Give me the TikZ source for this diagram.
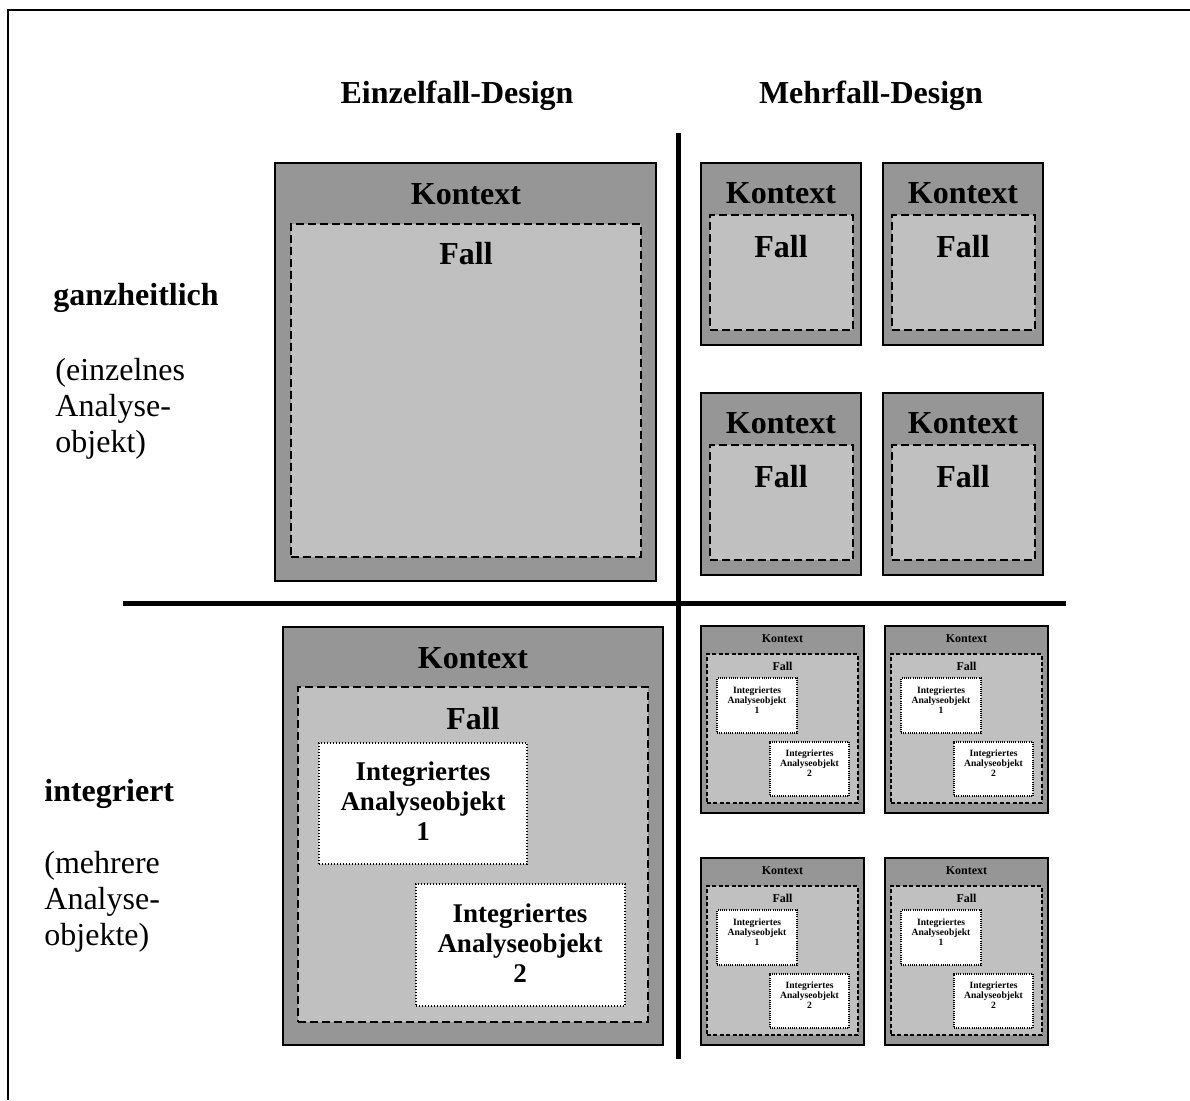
\documentclass[tikz,border=0pt]{standalone}
\usepackage{fontspec}
\setmainfont{Liberation Serif}
\usetikzlibrary{fit}
\definecolor{ctxgray}{RGB}{150,150,150}
\definecolor{casegray}{RGB}{192,192,192}
\tikzset{
  ctxbox/.style={draw=black, line width=1pt, fill=ctxgray, inner sep=0pt},
  casebox/.style={draw=black, line width=1pt, fill=casegray, dash pattern=on 4pt off 2pt, inner sep=0pt},
  objbox/.style={draw=black, line width=0.9pt, fill=white, dash pattern=on 0.6pt off 0.9pt, inner sep=0pt},
  scasebox/.style={draw=black, line width=0.8pt, fill=casegray, dash pattern=on 2pt off 1.2pt, inner sep=0pt},
  sobjbox/.style={draw=black, line width=0.6pt, fill=white, dash pattern=on 0.5pt off 0.6pt, inner sep=0pt},
  big/.style={font=\bfseries\fontsize{16}{18}\selectfont, inner sep=0pt},
  side/.style={font=\fontsize{16}{18}\selectfont, inner sep=0pt, align=left, anchor=north west},
  mid/.style={font=\bfseries\fontsize{13.5}{15}\selectfont, inner sep=0pt, align=center},
  tinyhead/.style={font=\bfseries\fontsize{6}{7}\selectfont, inner sep=0pt},
  tinyobj/.style={font=\bfseries\fontsize{4.8}{5}\selectfont, inner sep=0pt, align=center},
  divider/.style={line width=2.5pt}
}
\newcommand\smallcase[3]{%
  \begin{scope}[shift={(#1,#2)}]
    \node[ctxbox, fit={(0,0) (163,187)}] (#3ctx) {};
    \node[tinyhead] (#3ctxt) at (81.5,13) {Kontext};
    \node[scasebox, fit={(6,28) (157,177)}] (#3case) {};
    \node[tinyhead] (#3caset) at (81.5,40) {Fall};
    \node[sobjbox, fit={(16,52) (96,107)}] (#3oa) {};
    \node[tinyobj] (#3oat) at (56,74) {Integriertes\\Analyseobjekt\\1};
    \node[sobjbox, fit={(69,116) (148,170)}] (#3ob) {};
    \node[tinyobj] (#3obt) at (108.5,137) {Integriertes\\Analyseobjekt\\2};
  \end{scope}}
\newcommand\holcase[3]{%
  \begin{scope}[shift={(#1,#2)}]
    \node[ctxbox, fit={(0,0) (160,182)}] (#3ctx) {};
    \node[big] (#3ctxt) at (80,30) {Kontext};
    \node[casebox, fit={(9,52) (152,167)}] (#3case) {};
    \node[big] (#3caset) at (80,84) {Fall};
  \end{scope}}
\begin{document}
\begin{tikzpicture}[x=0.5pt, y=-0.5pt]
  \useasboundingbox (0,0) rectangle (1190,1100);
  % outer frame (top and left only)
  \coordinate (ftl) at (8,10);
  \coordinate (ftr) at (1190,10);
  \coordinate (fbl) at (8,1100);
  \draw[line width=1pt] (fbl) -- (ftl) -- (ftr);

  % headings
  \node[big] (h1) at (457,96) {Einzelfall-Design};
  \node[big] (h2) at (871,96) {Mehrfall-Design};

  % side labels
  \node[big, anchor=west] (l1) at (53,298) {ganzheitlich};
  \node[side] (l1b) at (55,358) {(einzelnes\\Analyse-\\objekt)};
  \node[big, anchor=west] (l2) at (44,794) {integriert};
  \node[side] (l2b) at (44,851) {(mehrere\\Analyse-\\objekte)};

  % dividers
  \coordinate (vt) at (678,133);
  \coordinate (vb) at (678,1059);
  \coordinate (hl) at (123,603);
  \coordinate (hr) at (1066,603);
  \draw[divider] (vt) -- (vb);
  \draw[divider] (hl) -- (hr);

  % Einzelfall, ganzheitlich
  \node[ctxbox, fit={(275,163) (656,581)}] (e1ctx) {};
  \node[big] (e1ctxt) at (466,194) {Kontext};
  \node[casebox, fit={(291,224) (641,557)}] (e1case) {};
  \node[big] (e1caset) at (466,254) {Fall};

  % Mehrfall, ganzheitlich
  \holcase{701}{163}{ma}
  \holcase{883}{163}{mb}
  \holcase{701}{393}{mc}
  \holcase{883}{393}{md}

  % Einzelfall, integriert
  \node[ctxbox, fit={(283,627) (663,1045)}] (e2ctx) {};
  \node[big] (e2ctxt) at (473,658) {Kontext};
  \node[casebox, fit={(298,687) (648,1022)}] (e2case) {};
  \node[big] (e2caset) at (473,719) {Fall};
  \node[objbox, fit={(319,743) (527,864)}] (e2oa) {};
  \node[mid] (e2oat) at (423,801) {Integriertes\\Analyseobjekt\\1};
  \node[objbox, fit={(416,884) (625,1006)}] (e2ob) {};
  \node[mid] (e2obt) at (520,943) {Integriertes\\Analyseobjekt\\2};

  % Mehrfall, integriert
  \smallcase{701}{626}{sa}
  \smallcase{885}{626}{sb}
  \smallcase{701}{858}{sc}
  \smallcase{885}{858}{sd}
\end{tikzpicture}
\end{document}
